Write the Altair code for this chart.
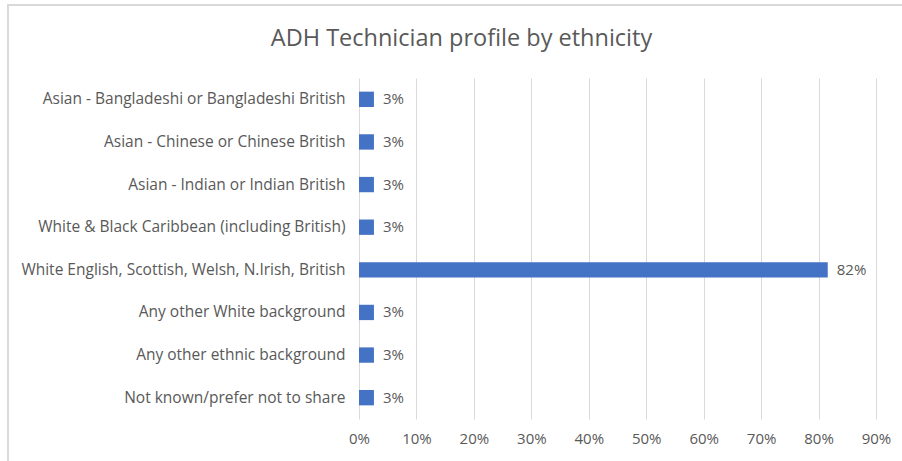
import altair as alt
import pandas as pd

categories = [
    "Asian - Bangladeshi or Bangladeshi British",
    "Asian - Chinese or Chinese British",
    "Asian - Indian or Indian British",
    "White & Black Caribbean (including British)",
    "White English, Scottish, Welsh, N.Irish, British",
    "Any other White background",
    "Any other ethnic background",
    "Not known/prefer not to share",
]
values = [0.026, 0.026, 0.026, 0.026, 0.816, 0.026, 0.026, 0.026]
x_ticks = [0, 0.1, 0.2, 0.3, 0.4, 0.5, 0.6, 0.7, 0.8, 0.9]

df = pd.DataFrame({"category": categories, "value": values})

FONT = "Open Sans"
GREY = "#595959"
FS = 15

y_enc = alt.Y(
    "category:N",
    sort=categories,
    title=None,
    scale=alt.Scale(paddingInner=0.64, paddingOuter=0.32),
    axis=alt.Axis(
        labelLimit=500, labelPadding=14, ticks=False, domain=False,
        labelFontSize=15.5, labelColor=GREY, labelFont=FONT,
    ),
)
x_enc = alt.X(
    "value:Q",
    title=None,
    scale=alt.Scale(domain=[0, 0.9], nice=False),
    axis=alt.Axis(
        values=x_ticks, format=".0%", ticks=False, domain=False,
        grid=True, gridColor="#d9d9d9", labelPadding=12, labelFlush=False,
        labelFontSize=FS, labelColor=GREY, labelFont=FONT,
    ),
)

bars = alt.Chart(df).mark_bar(color="#4472C4").encode(x=x_enc, y=y_enc)
labels = alt.Chart(df).mark_text(
    align="left", baseline="middle", dx=9, fontSize=FS, color=GREY, font=FONT
).encode(x="value:Q", y=alt.Y("category:N", sort=categories), text=alt.Text("value:Q", format=".0%"))

frame = alt.Chart(df).mark_rect(fill=None, stroke="#d9d9d9", strokeWidth=1.5).encode(
    x=alt.value(-351), x2=alt.value(560), y=alt.value(-73), y2=alt.value(400)
)

chart = alt.layer(frame, bars, labels).properties(
    width=517,
    height=341,
    autosize=alt.AutoSizeParams(type="none"),
    padding={"left": 359, "top": 78, "right": 26, "bottom": 42},
    title=alt.Title(
        "ADH Technician profile by ethnicity",
        fontSize=23.5, font=FONT, color=GREY, fontWeight="normal",
        anchor="middle", dx=-156, offset=0, dy=65, frame="group",
        baseline="alphabetic",
    ),
).configure_view(stroke=None)

chart.save("out.html", embed_options={"renderer": "svg", "actions": False})
